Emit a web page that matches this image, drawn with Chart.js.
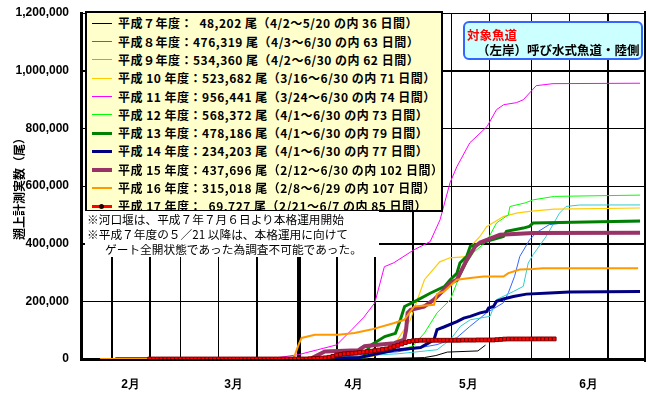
<!DOCTYPE html>
<html lang="ja">
<head>
<meta charset="UTF-8">
<title>遡上計測実数</title>
<style>
  * { margin: 0; padding: 0; }
  body { background: #fff; }
  .container { position: relative; width: 650px; height: 393px; overflow: hidden; }
  canvas { position: absolute; left: 0; top: 0; }
  #ytitle {
    position: absolute; left: -42px; top: 178px; width: 120px; height: 16px; line-height: 16px;
    text-align: center; transform: rotate(-90deg); white-space: nowrap;
    font: bold 12px "Noto Sans CJK JP", sans-serif; color: #000;
  }
  #frame { position: absolute; left: 644px; top: 11px; width: 6px; height: 351px; background: #fff; border-left: 2px solid #000; box-sizing: border-box; }
  #legend {
    position: absolute; left: 85px; top: 11px; width: 358px; height: 201px;
    box-sizing: border-box; background: #ffffcc; border: 2px solid #000;
  }
  .item { position: absolute; left: 0; width: 354px; height: 18px; }
  .item .line { position: absolute; left: 5px; width: 20px; }
  .item .dot { position: absolute; left: 12px; top: 7px; width: 5px; height: 5px; border-radius: 50%; background: #200; }
  .item .text {
    position: absolute; left: 31px; top: 0; line-height: 18px; white-space: pre; letter-spacing: 0.5px;
    font: bold 12px "Liberation Sans Narrow", "Noto Sans CJK JP", sans-serif; color: #000;
  }
  #note {
    position: absolute; left: 85px; top: 211px; width: 294px; height: 46px; background: #fff;
    font: 11.7px "Noto Sans CJK JP", sans-serif; line-height: 15px; color: #000;
  }
  #note div { padding-left: 2px; white-space: nowrap; }
  #target {
    position: absolute; left: 463px; top: 21px; width: 180px; height: 39px; box-sizing: border-box;
    background: #ccffff; border: 2.5px solid #3366ff; border-radius: 6px;
    font: bold 12.5px "Noto Sans CJK JP", sans-serif; white-space: nowrap;
  }
  #target .t1 { position: absolute; left: 2px; top: 2px; color: #ff0000; }
  #target .t2 { position: absolute; left: 12px; top: 17px; color: #000; }
</style>
</head>
<body>
<div class="container">
  <canvas id="chart" width="650" height="393"></canvas>
  <div id="frame"></div>
  <div id="ytitle"></div>
  <div id="legend"></div>
  <div id="note"><div>※河口堰は、平成７年７月６日より本格運用開始</div><div>※平成７年度の５／21 以降は、本格運用に向けて</div><div style="padding-left:20px">ゲート全開状態であった為調査不可能であった。</div></div>
  <div id="target"><div class="t1">対象魚道</div><div class="t2">（左岸）呼び水式魚道・陸側</div></div>
</div>
<script src="https://cdn.jsdelivr.net/npm/chart.js@4/dist/chart.umd.min.js"></script>
<script>
  // 日付は 2/1 = 0 からの通し日数 (3/1=28, 4/1=59, 5/1=89, 6/1=120)
  var monthDays = [15, 42, 73.5, 103.5, 135];
  var monthLabels = ['2月', '3月', '4月', '5月', '6月'];
  var gridDays = [10, 20, 28, 38, 48, 59, 69, 79, 89, 99, 109, 120, 130, 140];
  var yTitle = '遡上計測実数（尾）';

  var seriesLabels = [
    '平成７年度：  48,202 尾（4/2～5/20 の内 36 日間）',
    '平成８年度：476,319 尾（4/3～6/30 の内 63 日間）',
    '平成９年度：534,360 尾（4/2～6/30 の内 62 日間）',
    '平成 10 年度：523,682 尾（3/16～6/30 の内 71 日間）',
    '平成 11 年度：956,441 尾（3/24～6/30 の内 74 日間）',
    '平成 12 年度：568,372 尾（4/1～6/30 の内 73 日間）',
    '平成 13 年度：478,186 尾（4/1～6/30 の内 79 日間）',
    '平成 14 年度：234,203 尾（4/1～6/30 の内 77 日間）',
    '平成 15 年度：437,696 尾（2/12～6/30 の内 102 日間）',
    '平成 16 年度：315,018 尾（2/8～6/29 の内 107 日間）',
    '平成 17 年度：  69,727 尾（2/21～6/7 の内 85 日間）'
  ];

  // [日, 累計尾数]
  var h7 = [[60,0],[80,1000],[92,5000],[95,12000],[98,24000],[106,28000],[108,48202]];
  var h8 = [[61,0],[85,25000],[95.3,50000],[100.5,74000],[103.9,113000],[108.3,160000],[112.7,195000],
    [114,230000],[115.6,286000],[117,356000],[119.6,414000],[121.3,438000],[124.7,466000],[129.9,474000],[148.5,476319]];
  var h9 = [[60,0],[85,18000],[95.3,32000],[98.8,67000],[101.4,113000],[104,136000],[109.2,148000],[110.9,206000],
    [115.3,234000],[117.9,252000],[119.2,333000],[120.5,362000],[123.9,425000],[127.4,506000],[129.1,529000],
    [132.6,534000],[148.5,534360]];
  var h10 = [[43,0],[77,5000],[80,15000],[85,67000],[88.3,136000],[92,275000],[96,337000],[98.7,351000],
    [103.1,355000],[104,389000],[106.5,424000],[108.3,459000],[112.7,494000],[116.1,506000],[119.5,512000],
    [126,520000],[148.5,523682]];
  var h11 = [[51,0],[59,15000],[64,32000],[69,49000],[73,102000],[76,143000],[79,195000],[81.5,320000],
    [84,334000],[89.3,379000],[93.5,407000],[96.1,483000],[98.7,611000],[100.5,667000],[103.9,750000],
    [108.4,806000],[110.9,865000],[112.8,882000],[116.1,889000],[117.9,899000],[121.3,948000],[125.7,955000],
    [148.5,956441]];
  var h12 = [[59,0],[75,4000],[78,20000],[85,30000],[89,45000],[92,90000],[95.3,160000],[98.8,206000],
    [100.5,264000],[103.1,333000],[104.9,370000],[108.3,408000],[110.9,472000],[114,500000],[114.4,529000],
    [118.3,541000],[120.5,552000],[126.1,564000],[148.5,568372]];
  var h13 = [[59,0],[73.3,2000],[75.9,5000],[77.7,46000],[81.6,78000],[84.4,89000],[85.7,136000],[86.8,182000],
    [89.4,199000],[93.5,228000],[97.2,251000],[98.7,274000],[100.5,297000],[101.3,333000],[103.1,356000],
    [104,390000],[108.3,408000],[112.7,425000],[113.5,443000],[117.9,454000],[119.5,460000],[120.5,472000],
    [148.5,478186]];
  var h14 = [[59,0],[75,5000],[84,30000],[91,40000],[93,55000],[94.5,67000],[95.3,102000],[97.1,111000],
    [100.5,130000],[102.3,142000],[104,148000],[106.6,160000],[108.3,165000],[108.8,177000],[110.1,182000],
    [110.9,200000],[112.7,208000],[115.3,217000],[118.7,225000],[124.8,229000],[130,232000],[148.5,234203]];
  var h15 = [[11,0],[62,0],[64.2,15000],[65.9,26000],[74.6,30000],[76.3,44000],[80.5,50000],[84.1,55000],
    [86.7,67000],[87.2,102000],[87.6,160000],[88.4,171000],[91.9,182000],[94.5,206000],[97.1,240000],
    [98.8,264000],[100.5,275000],[103.1,344000],[105.3,390000],[106.6,404000],[111.8,431000],[120.5,437000],
    [148.5,437696]];
  var h16 = [[7,0],[57.5,0],[58.1,15000],[59,49000],[59.8,73000],[63.3,84000],[69.4,84000],[73.7,90000],
    [78,102000],[84.1,125000],[86.7,136000],[89.3,182000],[94.5,188000],[95.3,225000],[97.1,234000],
    [100.5,275000],[104,281000],[107.5,286000],[112.7,286000],[114,298000],[117,310000],[120.5,312000],
    [123,315000],[148,315018]];
  // 平成17年度は日別 (2/21 から 6/7 まで)
  var h17Start = 20;
  var h17 = [
    0,0,0,0,0,0,0,0,0,0, 0,0,0,0,0,0,0,0,0,0, 0,0,0,0,0,0,0,0,0,0, 0,0,0,0,0,0,0,0,0,0, 0,0,
    1000,2000,2000,3000,4000,6000,9000,14000,16000,18000,
    19000,20000,21000,23000,24000,26000,27000,29000,31000,33000,
    35000,39000,43000,47000,52000,57000,61000,63000,64000,65000,
    65000,65000,65000,65000,65000,65000,65000,65000,65000,65000,
    65500,65500,65500,65500,66000,66000,66000,66000,66000,67000,
    68000,69000,69500,69500,69500,69500,69500,69500,69600,69600,
    69700,69700,69700,69700,69727
  ];

  var seriesColors = ['#000000', '#3366ff', '#33cccc', '#ffcc00', '#ff00ff', '#00ff00',
    '#008000', '#000080', '#993366', '#ff9900', '#ff0000'];
  var seriesWidths = [1, 1, 1, 1.2, 1, 1, 3, 3, 4, 2, 2];

  var series = [h7, h8, h9, h10, h11, h12, h13, h14, h15, h16,
    h17.map(function (v, i) { return [h17Start + i, v]; })];
  var last = series.length - 1;

  var tickDays = gridDays.concat(monthDays).sort(function (a, b) { return a - b; });

  // Chart.js は先頭のデータセットを最前面に描くので、逆順で渡す (平成17年度が最前面)
  var datasets = [];
  for (var i = last; i >= 0; i--) {
    var ds = {
      label: seriesLabels[i],
      data: series[i].map(function (p) { return { x: p[0], y: p[1] }; }),
      borderColor: seriesColors[i],
      borderWidth: seriesWidths[i],
      pointRadius: 0
    };
    if (i === last) {
      ds.pointRadius = 2.7;
      ds.pointStyle = 'rect';
      ds.pointBackgroundColor = '#ff0000';
      ds.pointBorderColor = '#800000';
      ds.pointBorderWidth = 1;
    }
    datasets.push(ds);
  }

  // 目盛線: データ線の直前に、x・y 軸のスケールから位置を取って引く
  var gridLines = {
    id: 'gridLines',
    beforeDatasetsDraw: function (chart) {
      var a = chart.chartArea, c = chart.ctx;
      var xs = chart.scales.x, ys = chart.scales.y;
      c.save();
      c.strokeStyle = '#000';
      ys.ticks.forEach(function (t) {
        var y = Math.round(ys.getPixelForValue(t.value)) + 0.5;
        c.lineWidth = 1;
        c.beginPath();
        c.moveTo(a.left, y);
        c.lineTo(a.right, y);
        c.stroke();
      });
      gridDays.forEach(function (d) {
        var w = d === 59 ? 3 : 1;
        var x = Math.round(xs.getPixelForValue(d)) + 0.5;
        c.lineWidth = w;
        c.beginPath();
        c.moveTo(x, a.top);
        c.lineTo(x, a.bottom);
        c.stroke();
      });
      c.restore();
    }
  };

  document.getElementById('ytitle').textContent = yTitle;

  var ctx = document.getElementById('chart').getContext('2d');
  var myChart = new Chart(ctx, {
    type: 'line',
    data: { datasets: datasets },
    plugins: [gridLines],
    options: {
      responsive: false,
      animation: false,
      devicePixelRatio: 1,
      layout: { padding: { top: 13, right: 0, bottom: 0, left: 0 } },
      plugins: { legend: { display: false }, tooltip: { enabled: false } },
      scales: {
        x: {
          type: 'linear', min: 2, max: 149.8,
          afterBuildTicks: function (s) { s.ticks = tickDays.map(function (v) { return { value: v }; }); },
          afterFit: function (s) { s.height = 34; },
          ticks: {
            autoSkip: false, maxRotation: 0, padding: 10, color: '#000',
            font: { size: 12, weight: 'bold' },
            callback: function (v) {
              var k = monthDays.indexOf(v);
              return k >= 0 ? monthLabels[k] : '';
            }
          },
          grid: {
            color: function (c) {
              var v = c.tick ? c.tick.value : null;
              return gridDays.indexOf(v) >= 0 ? '#000000' : 'rgba(255,255,255,0)';
            },
            tickColor: 'rgba(255,255,255,0)',
            lineWidth: function (c) { return c.tick && c.tick.value === 59 ? 3 : 1; }
          },
          border: { color: '#000000', width: 3 }
        },
        y: {
          min: 0, max: 1200000,
          afterFit: function (s) { s.width = 81; },
          ticks: {
            stepSize: 200000, padding: 4, color: '#000',
            font: { size: 12, weight: 'bold' },
            callback: function (v) { return v.toLocaleString('en-US'); }
          },
          grid: { color: '#000000', lineWidth: 1, tickColor: 'rgba(255,255,255,0)' },
          border: { color: '#000000', width: 3 }
        }
      }
    }
  });

  // 凡例 (グラフ内の黄色い枠)
  var legend = document.getElementById('legend');
  seriesLabels.forEach(function (label, i) {
    var row = document.createElement('div');
    row.className = 'item';
    row.style.top = (1.3 + i * 18.3) + 'px';
    var line = document.createElement('div');
    line.className = 'line';
    var w = i === last ? 3 : seriesWidths[i];
    line.style.borderTop = w + 'px solid ' + seriesColors[i];
    line.style.top = (9 - w / 2) + 'px';
    row.appendChild(line);
    if (i === last) {
      var dot = document.createElement('div');
      dot.className = 'dot';
      row.appendChild(dot);
    }
    var txt = document.createElement('div');
    txt.className = 'text';
    txt.textContent = label;
    row.appendChild(txt);
    legend.appendChild(row);
  });
</script>
</body>
</html>
